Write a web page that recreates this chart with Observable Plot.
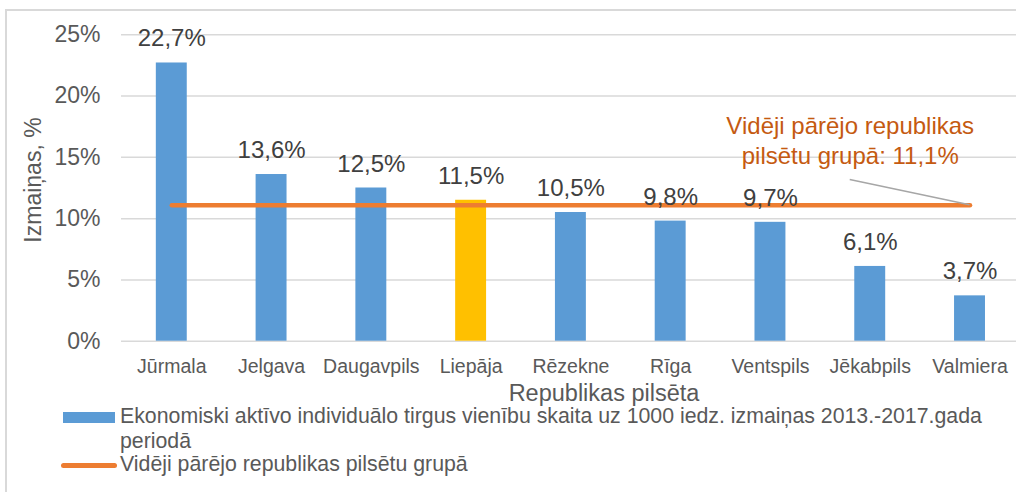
<!DOCTYPE html>
<html><head><meta charset="utf-8">
<script src="https://cdn.jsdelivr.net/npm/d3@7"></script>
<script src="https://cdn.jsdelivr.net/npm/@observablehq/plot@0.6"></script>
<style>
html,body{margin:0;padding:0;background:#fff;overflow:hidden;width:1016px;height:492px;}
body{position:relative;font-family:"Liberation Sans",Arial,sans-serif;}
#frame{position:absolute;left:5px;top:9px;width:1200px;height:800px;border:2px solid #d9d9d9;box-sizing:border-box;}
#chart{position:absolute;left:0;top:0;}
.item{position:absolute;white-space:nowrap;line-height:25px;font-size:21.3px;color:#595959;}
.sw{position:absolute;}
</style>
</head><body>
<div id="frame"></div>
<div id="chart"></div>
<div id="legend"></div>
<script>
const cities = ["Jūrmala","Jelgava","Daugavpils","Liepāja","Rēzekne","Rīga","Ventspils","Jēkabpils","Valmiera"];
const values = [22.7,13.6,12.5,11.5,10.5,9.8,9.7,6.1,3.7];
const highlightCity = "Liepāja";
const averageValue = 11.1;
const yTicks = [0,5,10,15,20,25];
const seriesNameLines = ["Ekonomiski aktīvo individuālo tirgus vienību skaita uz 1000 iedz. izmaiņas 2013.-2017.gada", "periodā"];
const averageName = "Vidēji pārējo republikas pilsētu grupā";
const annotationLines = ["Vidēji pārējo republikas", "pilsētu grupā: 11,1%"];
const annotationCity = "Jēkabpils";
const xTitle = "Republikas pilsēta";
const yTitle = "Izmaiņas, %";

const colors = {bar:"#5B9BD5", highlight:"#FFC000", average:"#ED7D31", annotation:"#C55A11",
  text:"#595959", label:"#404040", grid:"#d9d9d9", leader:"#a6a6a6"};

const data = cities.map((city, i) => ({city, value: values[i]}));
const fmt = v => v.toFixed(1).replace(".", ",") + "%";

const W = 1016, H = 410;
const plot = Plot.plot({
  width: W, height: H,
  marginTop: 34, marginBottom: H - 341, marginLeft: 121, marginRight: 0,
  style: {fontFamily: "Liberation Sans, Arial, sans-serif", background: "transparent", overflow: "visible"},
  x: {domain: cities, range: [121.4, 1019.4], paddingInner: 0.69, paddingOuter: 0.345, align: 0.5, round: false},
  y: {domain: [0, 25], range: [340.7, 34.3]},
  color: {type: "identity"},
  marks: [
    Plot.gridY(yTicks, {stroke: colors.grid, strokeOpacity: 1, strokeWidth: 1.5}),
    Plot.barY(data, {x: "city", y: "value", fill: d => d.city === highlightCity ? colors.highlight : colors.bar}),
    Plot.line(cities, {x: d => d, y: () => averageValue, stroke: colors.average, strokeWidth: 4.5, strokeLinecap: "round"}),
    Plot.text(data, {x: "city", y: "value", text: d => fmt(d.value), lineAnchor: "bottom", dy: -16.5, fontSize: 24, fill: colors.label}),
    Plot.axisY(yTicks, {tickSize: 0, tickPadding: 21, tickFormat: d => d + "%", fontSize: 23, fill: colors.text, label: null}),
    Plot.axisX({tickSize: 0, tickPadding: 17.5, fontSize: 19.5, fill: colors.text, label: null}),
    Plot.text([yTitle], {frameAnchor: "left", rotate: -90, textAnchor: "middle", lineAnchor: "middle", dx: -88, dy: -8, fontSize: 23, fill: colors.text}),
    Plot.text([xTitle], {frameAnchor: "bottom", textAnchor: "middle", lineAnchor: "bottom", dx: 35, dy: 59, fontSize: 23.5, fill: colors.text}),
    Plot.text([{city: annotationCity, label: annotationLines.join("\n")}], {x: "city", y: () => averageValue, text: "label",
      lineAnchor: "bottom", lineHeight: 30/24, dx: -20, dy: -41.5, fontSize: 24, fill: colors.annotation})
  ]
});

// leader line from annotation to the end of the average line, positioned through the plot's scales
const sx = plot.scale("x"), sy = plot.scale("y");
const cx = c => sx.apply(c) + sx.bandwidth / 2;
d3.select(plot).append("line")
  .attr("x1", cx(annotationCity) - 20).attr("y1", sy.apply(averageValue) - 25.2)
  .attr("x2", cx(cities[cities.length - 1])).attr("y2", sy.apply(averageValue))
  .attr("stroke", colors.leader).attr("stroke-width", 1.5);

document.getElementById("chart").appendChild(plot);

// legend (HTML, below the chart)
const lg = document.getElementById("legend");
lg.innerHTML = `
  <div class="sw" style="left:63px;top:411.5px;width:52px;height:11px;background:${colors.bar}"></div>
  <div class="item" style="left:120px;top:404px;">${seriesNameLines.join("<br>")}</div>
  <div class="sw" style="left:61px;top:462.5px;width:56px;height:5px;border-radius:2.5px;background:${colors.average}"></div>
  <div class="item" style="left:120px;top:452px;">${averageName}</div>`;
</script>
</body></html>
